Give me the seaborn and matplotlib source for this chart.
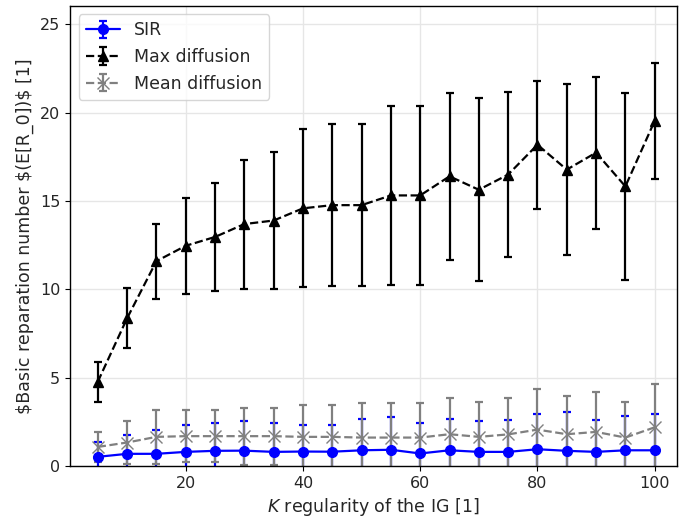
import numpy as np
import pandas as pd
import matplotlib
matplotlib.use("Agg")
import matplotlib.pyplot as plt
import seaborn as sns

# K regularity values
k_values = [5, 10, 15, 20, 25, 30, 35, 40, 45, 50,
            55, 60, 65, 70, 75, 80, 85, 90, 95, 100]

# SIR mean and std
sir_mean = [0.53, 0.70, 0.70, 0.81, 0.87, 0.88, 0.81, 0.83, 0.82, 0.90,
            0.93, 0.72, 0.90, 0.81, 0.81, 0.96, 0.87, 0.81, 0.90, 0.90]
sir_err = [0.84, 1.05, 1.37, 1.53, 1.55, 1.67, 1.61, 1.49, 1.50, 1.78,
           1.83, 1.75, 1.78, 1.74, 1.79, 2.02, 2.17, 1.79, 1.93, 2.03]

# Max diffusion mean and std
max_mean = [4.78, 8.37, 11.60, 12.47, 12.97, 13.70, 13.90, 14.59, 14.77, 14.77,
            15.32, 15.32, 16.40, 15.64, 16.50, 18.19, 16.78, 17.74, 15.83, 19.54]
max_err = [1.12, 1.70, 2.12, 2.71, 3.08, 3.65, 3.85, 4.47, 4.57, 4.57,
           5.05, 5.05, 4.73, 5.18, 4.69, 3.63, 4.83, 4.30, 5.29, 3.29]

# Mean diffusion mean and std
meandiff_mean = [1.09, 1.34, 1.66, 1.70, 1.70, 1.70, 1.70, 1.66, 1.66, 1.62,
                 1.62, 1.62, 1.81, 1.66, 1.80, 2.07, 1.81, 1.94, 1.62, 2.20]
meandiff_err = [0.85, 1.22, 1.51, 1.47, 1.47, 1.62, 1.62, 1.83, 1.83, 1.93,
                1.98, 1.98, 2.06, 2.00, 2.07, 2.31, 2.15, 2.23, 2.04, 2.44]

df = pd.DataFrame({
    "k": k_values,
    "sir": sir_mean, "sir_err": sir_err,
    "max": max_mean, "max_err": max_err,
    "mean": meandiff_mean, "mean_err": meandiff_err,
})

sns.set_style("ticks")
plt.rcParams["font.family"] = ["DejaVu Sans"]
plt.rcParams["font.size"] = 12

fig, ax = plt.subplots(figsize=(6.79, 5.25), dpi=100)
fig.subplots_adjust(left=0.103, right=0.997, top=0.989, bottom=0.112)

series = [
    ("sir", "SIR", "blue", "o", "-", 7),
    ("max", "Max diffusion", "black", "^", "--", 7),
    ("mean", "Mean diffusion", "gray", "x", "--", 8),
]
for col, label, color, marker, ls, ms in series:
    ax.errorbar(df["k"], df[col], yerr=df[col + "_err"], label=label,
                color=color, marker=marker, linestyle=ls, markersize=ms,
                linewidth=1.6, elinewidth=1.6, capsize=3, capthick=1.6)

ax.set_ylim(0, 26.05)
ax.set_xlim(0.25, 103.8)
ax.set_yticks([0, 5, 10, 15, 20, 25])
ax.grid(True, color="#e6e6e6", linewidth=1)
ax.set_axisbelow(True)
for s in ax.spines.values():
    s.set_color("black")
    s.set_linewidth(1.0)
ax.tick_params(labelsize=11.5, color="black")

ax.set_xlabel(r"$K$ regularity of the IG [1]", fontsize=12.5)
ax.set_ylabel(r"\$Basic reparation number \$(E[R_0])\$ [1]", fontsize=12.5)

ax.legend(loc="upper left", fontsize=12.5, frameon=True)

plt.savefig("out.png", dpi=100)
plt.close()
